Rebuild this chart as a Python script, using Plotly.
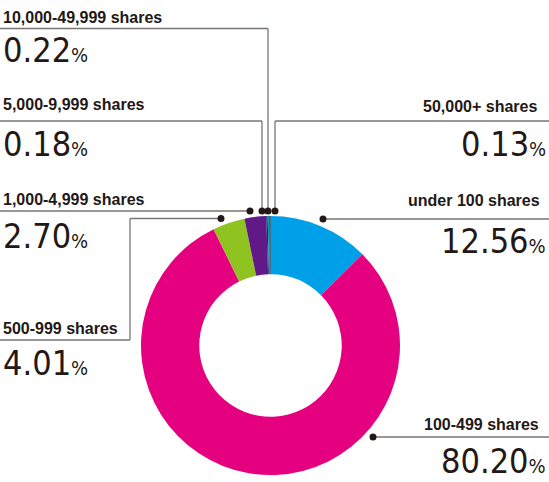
import plotly.graph_objects as go

W, H = 549, 482

categories = ["under 100 shares", "100-499 shares", "500-999 shares", "1,000-4,999 shares",
              "5,000-9,999 shares", "10,000-49,999 shares", "50,000+ shares"]
values = [12.56, 80.20, 4.01, 2.70, 0.18, 0.22, 0.13]
pct_labels = ["12.56", "80.20", "4.01", "2.70", "0.18", "0.22", "0.13"]
colors = ["#00A0E9", "#E4007F", "#8FC31F", "#601986", "#1D2088", "#0097B2", "#111111"]

LABEL_FONT = "Liberation Sans, Arial, sans-serif"
NUM_FONT = "Liberation Sans Narrow, DejaVu Sans Condensed, Liberation Sans, sans-serif"
INK = "#231815"
LINE = "#7a7474"

def px(x):
    return x / W

def py(y):
    return 1 - y / H

# donut geometry (pixels)
cx, cy, R = 270.5, 345.5, 129.5

fig = go.Figure(go.Pie(
    labels=categories, values=values, sort=False, direction="clockwise", rotation=0,
    hole=0.55, marker=dict(colors=colors, line=dict(width=0)), textinfo="none",
    hoverinfo="label+percent", showlegend=False,
    domain=dict(x=[px(cx - R), px(cx + R)], y=[py(cy + R), py(cy - R)]),
))

shapes = []
def seg(pts):
    for (x0, y0), (x1, y1) in zip(pts[:-1], pts[1:]):
        shapes.append(dict(type="line", xref="paper", yref="paper",
                           x0=px(x0), y0=py(y0), x1=px(x1), y1=py(y1),
                           line=dict(color=LINE, width=1.3)))
def dot(x, y, r=3.5):
    shapes.append(dict(type="circle", xref="paper", yref="paper",
                       x0=px(x - r), x1=px(x + r), y0=py(y - r), y1=py(y + r),
                       fillcolor=INK, line=dict(width=0)))

# leader lines
seg([(0, 28.5), (268, 28.5), (268, 211)])          # 10,000-49,999
seg([(0, 121), (262, 121), (262, 211)])            # 5,000-9,999
seg([(549, 121), (275, 121), (275, 211)])          # 50,000+
seg([(0, 211), (250, 211)])                        # 1,000-4,999
seg([(0, 340), (130, 340), (130, 218.5), (221, 218.5)])  # 500-999
seg([(323, 219), (549, 219)])                      # under 100
seg([(373, 437), (549, 437)])                      # 100-499
for x, y in [(268, 211), (262, 211), (275, 211), (250, 211), (221, 218.5), (323, 219), (373, 437)]:
    dot(x, y)

annotations = []
def label(text, x, y, anchor):
    annotations.append(dict(text=text, x=px(x), y=py(y), xref="paper", yref="paper",
                            xanchor=anchor, yanchor="middle", showarrow=False,
                            font=dict(family=LABEL_FONT, size=16, color=INK, weight="bold")))
def pct(text, x, y, anchor):
    annotations.append(dict(text=text + "<span style='font-size:20px'>%</span>",
                            x=px(x), y=py(y), xref="paper", yref="paper",
                            xanchor=anchor, yanchor="middle", showarrow=False,
                            font=dict(family=NUM_FONT, size=34, color=INK)))

# category label positions: (x, y, anchor) for label, and y for percentage
layout_pos = {
    "10,000-49,999 shares": ((1, 18, "left"), 50),
    "5,000-9,999 shares": ((1, 104, "left"), 144),
    "50,000+ shares": ((539, 106, "right"), 144),
    "under 100 shares": ((542, 200, "right"), 241),
    "1,000-4,999 shares": ((1, 199, "left"), 236),
    "500-999 shares": ((1, 328, "left"), 363),
    "100-499 shares": ((541, 424, "right"), 461),
}
for cat, p in zip(categories, pct_labels):
    (lx, ly, anc), pyy = layout_pos[cat]
    label(cat, lx, ly, anc)
    pct(p, lx if anc == "left" else 548, pyy, anc)

fig.update_layout(width=W, height=H, margin=dict(l=0, r=0, t=0, b=0),
                  paper_bgcolor="white", plot_bgcolor="white",
                  shapes=shapes, annotations=annotations)
fig.write_html("out.html", config={"displayModeBar": False},
               post_script="document.body.style.margin='0';document.body.style.overflow='hidden';")
